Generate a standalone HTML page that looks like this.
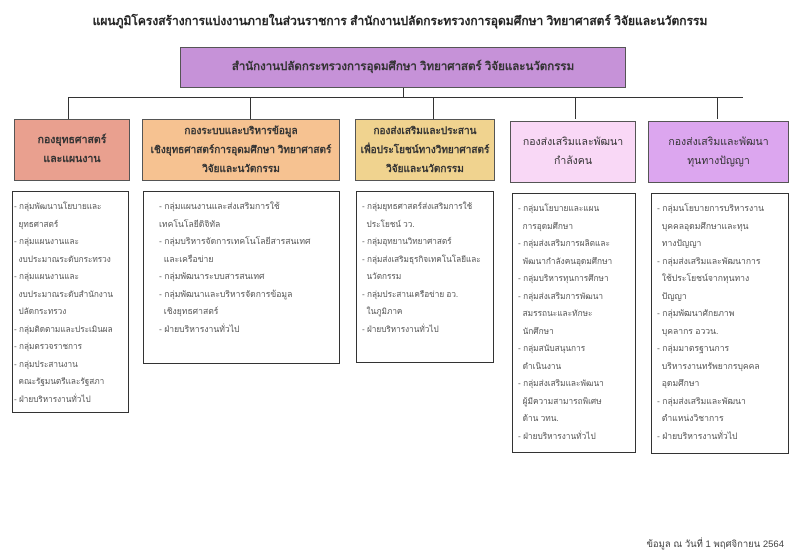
<!DOCTYPE html>
<html><head><meta charset="utf-8"><style>
body{margin:0;width:800px;height:554px;background:#fff;position:relative;font-family:"Liberation Sans","DejaVu Sans",sans-serif;color:#333;overflow:hidden}
.a{position:absolute;box-sizing:border-box}
.h{border:1.5px solid #555;display:flex;align-items:center;justify-content:center;text-align:center;font-weight:bold;font-size:10.5px;line-height:19px;color:#333;white-space:nowrap}
.l{border:1px solid #333;font-size:8.6px;line-height:17.5px;padding:6px 2px 0 3px;color:#555;white-space:nowrap;overflow:hidden}
.ln{position:absolute;background:#333}
</style></head><body>
<div class="a" style="left:0;top:12px;width:800px;text-align:center;font-size:12px;font-weight:bold;color:#222">แผนภูมิโครงสร้างการแบ่งงานภายในส่วนราชการ สำนักงานปลัดกระทรวงการอุดมศึกษา วิทยาศาสตร์ วิจัยและนวัตกรรม</div>
<div class="a h" style="left:180px;top:47px;width:446px;height:41px;background:#c692d8;font-size:11.5px">สำนักงานปลัดกระทรวงการอุดมศึกษา วิทยาศาสตร์ วิจัยและนวัตกรรม</div>
<div class="ln" style="left:403px;top:88px;width:1px;height:10px"></div>
<div class="ln" style="left:68px;top:97px;width:675px;height:1px"></div>
<div class="ln" style="left:68px;top:97px;width:1px;height:22px"></div>
<div class="ln" style="left:250px;top:97px;width:1px;height:22px"></div>
<div class="ln" style="left:433px;top:97px;width:1px;height:22px"></div>
<div class="ln" style="left:575px;top:97px;width:1px;height:22px"></div>
<div class="ln" style="left:717px;top:97px;width:1px;height:22px"></div>
<div class="a h" style="left:14px;top:119px;width:116px;height:62px;background:#e9a08f">กองยุทธศาสตร์<br>และแผนงาน</div>
<div class="a h" style="left:142px;top:119px;width:198px;height:62px;background:#f6c291;font-size:10px">กองระบบและบริหารข้อมูล<br>เชิงยุทธศาสตร์การอุดมศึกษา วิทยาศาสตร์<br>วิจัยและนวัตกรรม</div>
<div class="a h" style="left:355px;top:119px;width:140px;height:62px;background:#f0d38f;font-size:10px">กองส่งเสริมและประสาน<br>เพื่อประโยชน์ทางวิทยาศาสตร์<br>วิจัยและนวัตกรรม</div>
<div class="a h" style="left:510px;top:121px;width:126px;height:62px;background:#f9d8f6;font-weight:normal">กองส่งเสริมและพัฒนา<br>กำลังคน</div>
<div class="a h" style="left:648px;top:121px;width:141px;height:62px;background:#dca6ef;font-weight:normal">กองส่งเสริมและพัฒนา<br>ทุนทางปัญญา</div>
<div class="a l" style="left:12px;top:191px;width:117px;height:222px;padding-left:1px;font-size:8.2px">- กลุ่มพัฒนานโยบายและ<br>&nbsp; ยุทธศาสตร์<br>- กลุ่มแผนงานและ<br>&nbsp; งบประมาณระดับกระทรวง<br>- กลุ่มแผนงานและ<br>&nbsp; งบประมาณระดับสำนักงาน<br>&nbsp; ปลัดกระทรวง<br>- กลุ่มติดตามและประเมินผล<br>- กลุ่มตรวจราชการ<br>- กลุ่มประสานงาน<br>&nbsp; คณะรัฐมนตรีและรัฐสภา<br>- ฝ่ายบริหารงานทั่วไป</div>
<div class="a l" style="left:143px;top:191px;width:197px;height:173px;padding-left:15px">- กลุ่มแผนงานและส่งเสริมการใช้<br>เทคโนโลยีดิจิทัล<br>- กลุ่มบริหารจัดการเทคโนโลยีสารสนเทศ<br>&nbsp; และเครือข่าย<br>- กลุ่มพัฒนาระบบสารสนเทศ<br>- กลุ่มพัฒนาและบริหารจัดการข้อมูล<br>&nbsp; เชิงยุทธศาสตร์<br>- ฝ่ายบริหารงานทั่วไป</div>
<div class="a l" style="left:356px;top:191px;width:138px;height:172px;padding-left:5px;font-size:8.2px">- กลุ่มยุทธศาสตร์ส่งเสริมการใช้<br>&nbsp; ประโยชน์ วว.<br>- กลุ่มอุทยานวิทยาศาสตร์<br>- กลุ่มส่งเสริมธุรกิจเทคโนโลยีและ<br>&nbsp; นวัตกรรม<br>- กลุ่มประสานเครือข่าย อว.<br>&nbsp; ในภูมิภาค<br>- ฝ่ายบริหารงานทั่วไป</div>
<div class="a l" style="left:512px;top:193px;width:124px;height:260px;padding-left:5px;font-size:8.3px">- กลุ่มนโยบายและแผน<br>&nbsp; การอุดมศึกษา<br>- กลุ่มส่งเสริมการผลิตและ<br>&nbsp; พัฒนากำลังคนอุดมศึกษา<br>- กลุ่มบริหารทุนการศึกษา<br>- กลุ่มส่งเสริมการพัฒนา<br>&nbsp; สมรรถนะและทักษะ<br>&nbsp; นักศึกษา<br>- กลุ่มสนับสนุนการ<br>&nbsp; ดำเนินงาน<br>- กลุ่มส่งเสริมและพัฒนา<br>&nbsp; ผู้มีความสามารถพิเศษ<br>&nbsp; ด้าน วทน.<br>- ฝ่ายบริหารงานทั่วไป</div>
<div class="a l" style="left:651px;top:193px;width:138px;height:261px;padding-left:5px">- กลุ่มนโยบายการบริหารงาน<br>&nbsp; บุคคลอุดมศึกษาและทุน<br>&nbsp; ทางปัญญา<br>- กลุ่มส่งเสริมและพัฒนาการ<br>&nbsp; ใช้ประโยชน์จากทุนทาง<br>&nbsp; ปัญญา<br>- กลุ่มพัฒนาศักยภาพ<br>&nbsp; บุคลากร อววน.<br>- กลุ่มมาตรฐานการ<br>&nbsp; บริหารงานทรัพยากรบุคคล<br>&nbsp; อุดมศึกษา<br>- กลุ่มส่งเสริมและพัฒนา<br>&nbsp; ตำแหน่งวิชาการ<br>- ฝ่ายบริหารงานทั่วไป</div>
<div class="a" style="right:16px;top:537px;font-size:9.5px;color:#444">ข้อมูล ณ วันที่ 1 พฤศจิกายน 2564</div>
</body></html>
